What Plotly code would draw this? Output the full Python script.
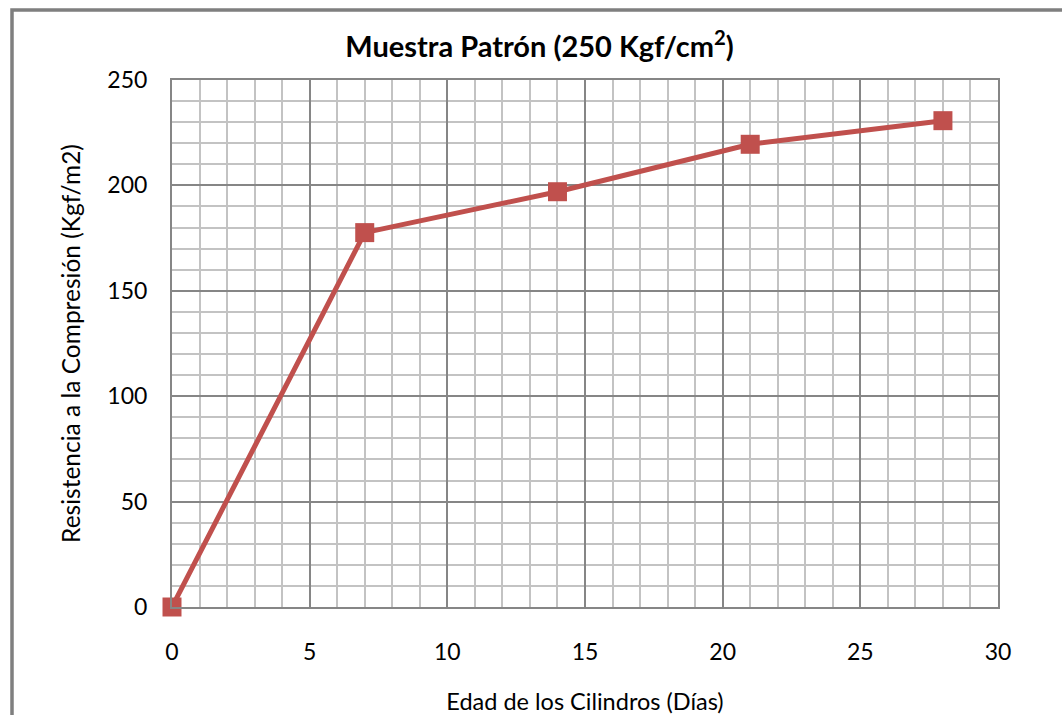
import plotly.graph_objects as go

# Edad de los cilindros (días) y resistencia a la compresión medida
edad_dias = [0, 7, 14, 21, 28]
resistencia = [0, 177.6, 197.0, 219.5, 230.7]

x_ticks = [0, 5, 10, 15, 20, 25, 30]
y_ticks = [0, 50, 100, 150, 200, 250]

FONT = "Lato"
RED = "#c0504d"
MAJOR = "#868686"
MINOR = "#c3c3c3"

fig = go.Figure()
fig.add_trace(go.Scatter(
    x=edad_dias,
    y=resistencia,
    mode="lines+markers",
    line=dict(color=RED, width=5),
    marker=dict(symbol="square", size=19, color=RED),
    cliponaxis=False,
    showlegend=False,
))

axis_common = dict(
    showline=True,
    linecolor=MAJOR,
    linewidth=2,
    mirror=True,
    showgrid=True,
    gridcolor=MAJOR,
    gridwidth=1.5,
    zeroline=False,
    ticks="",
    automargin=False,
    tickfont=dict(family=FONT, size=23, color="#000000"),
)

fig.update_xaxes(
    range=[0, 30],
    tickvals=x_ticks,
    ticktext=[str(v) for v in x_ticks],
    minor=dict(dtick=1, showgrid=True, gridcolor=MINOR, gridwidth=1.5),
    title=dict(text="Edad de los Cilindros (Días)",
               font=dict(family=FONT, size=23.5, color="#000000"),
               standoff=30),
    ticklabelstandoff=23,
    **axis_common,
)
fig.update_yaxes(
    range=[0, 250],
    tickvals=y_ticks,
    ticktext=[str(v) for v in y_ticks],
    minor=dict(dtick=10, showgrid=True, gridcolor=MINOR, gridwidth=1.5),
    title=dict(text="Resistencia a la Compresión (Kgf/m2)",
               font=dict(family=FONT, size=24.5, color="#000000"),
               standoff=20),
    ticklabelstandoff=18,
    **axis_common,
)

# Marco gris del área del gráfico (se extiende fuera del lienzo a la derecha y abajo)
fig.add_shape(
    type="rect", xref="paper", yref="paper",
    x0=-0.1937, x1=1.2, y0=-0.3, y1=1.1328,
    line=dict(color="#7f7f7f", width=3.5),
    fillcolor="rgba(0,0,0,0)",
    layer="below",
)

fig.update_layout(
    width=1062,
    height=715,
    margin=dict(l=172, r=64, t=80, b=108),
    paper_bgcolor="#ffffff",
    plot_bgcolor="#ffffff",
    title=dict(
        text="<b>Muestra Patrón (250 Kgf/cm<sup>2</sup>)</b>",
        font=dict(family=FONT, size=29, color="#000000"),
        x=0.508, xanchor="center",
        y=0.934, yanchor="middle",
    ),
)

fig.write_html("out.html")
